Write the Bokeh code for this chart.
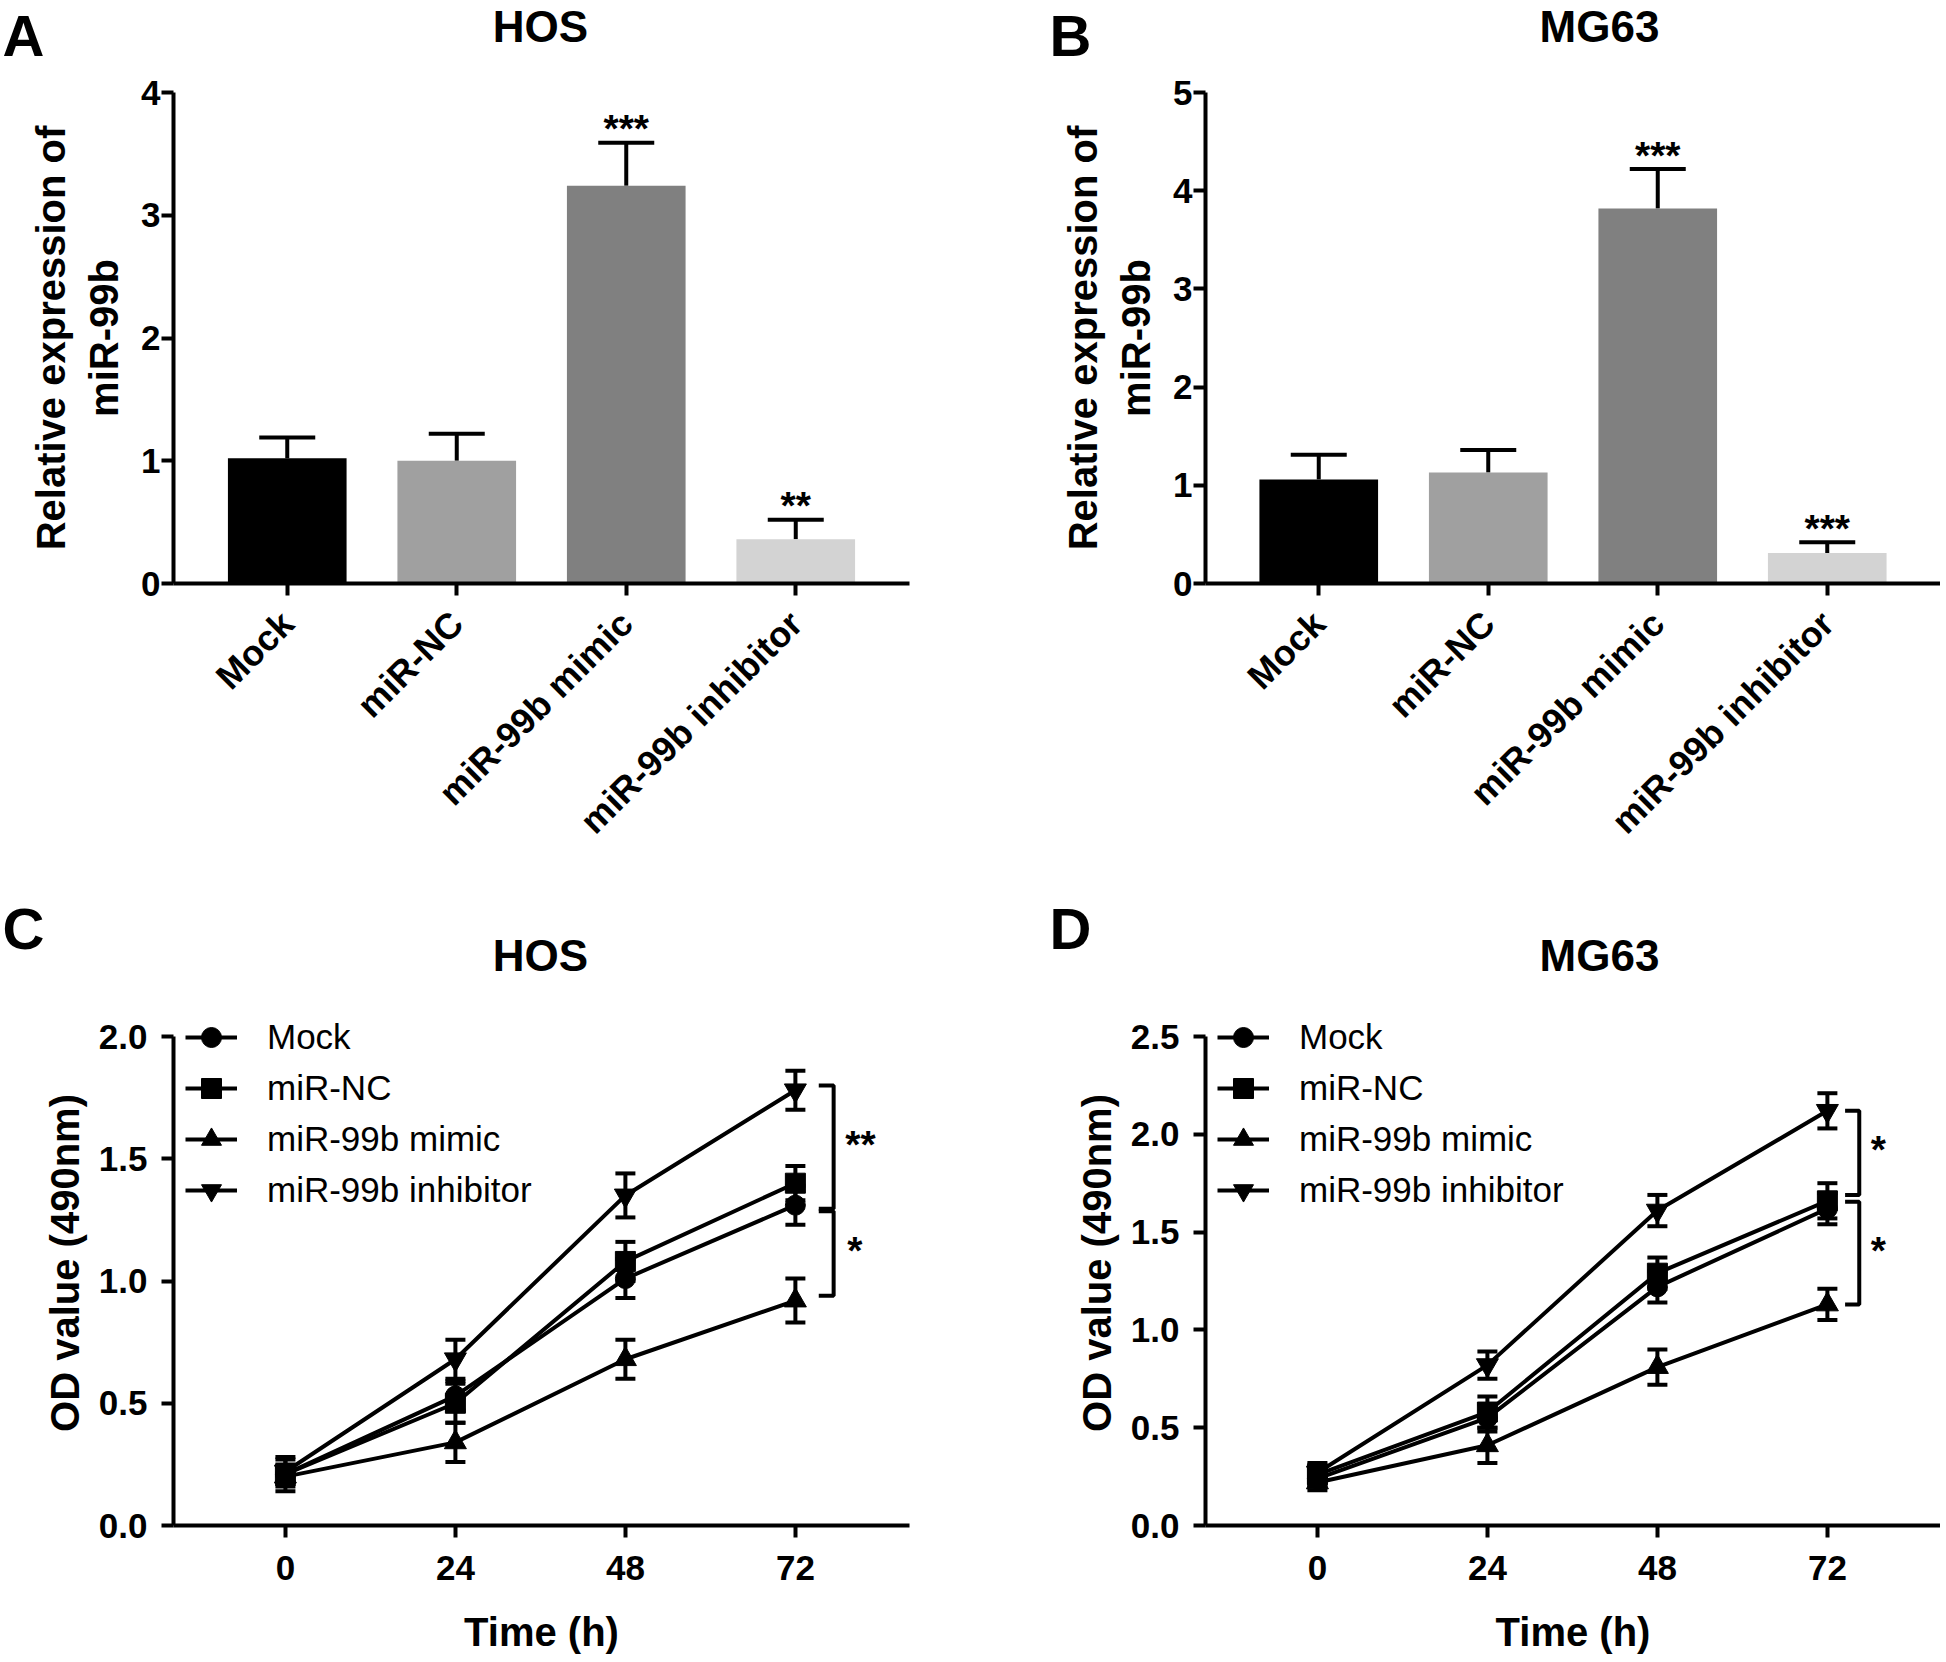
import numpy as np
from bokeh.plotting import figure
from bokeh.layouts import column, row
from bokeh.models import (FactorRange, Range1d, FixedTicker, PrintfTickFormatter,
                          Whisker, TeeHead, ColumnDataSource, Legend, LegendItem)
from bokeh.embed import file_html
from bokeh.resources import INLINE
from bokeh.core.properties import value

FONT = "Liberation Sans"

# ---------------- data ----------------
groups = ["Mock", "miR-NC", "miR-99b mimic", "miR-99b inhibitor"]
bar_colors = ["#000000", "#a0a0a0", "#808080", "#d3d3d3"]

hos_expr = [1.02, 1.00, 3.24, 0.36]
hos_expr_sd = [0.17, 0.22, 0.35, 0.16]
hos_expr_sig = ["", "", "***", "**"]

mg63_expr = [1.06, 1.13, 3.82, 0.31]
mg63_expr_sd = [0.25, 0.23, 0.40, 0.11]
mg63_expr_sig = ["", "", "***", "***"]

time_h = [0, 24, 48, 72]
time_labels = ["0", "24", "48", "72"]

hos_mock_od = [0.21, 0.53, 1.01, 1.31]
hos_mock_sd = [0.04, 0.06, 0.08, 0.08]
hos_nc_od = [0.21, 0.50, 1.08, 1.40]
hos_nc_sd = [0.07, 0.08, 0.08, 0.07]
hos_mimic_od = [0.20, 0.34, 0.68, 0.92]
hos_mimic_sd = [0.04, 0.08, 0.08, 0.09]
hos_inhib_od = [0.22, 0.68, 1.35, 1.78]
hos_inhib_sd = [0.05, 0.08, 0.09, 0.08]

mg63_mock_od = [0.24, 0.55, 1.22, 1.62]
mg63_mock_sd = [0.04, 0.07, 0.08, 0.08]
mg63_nc_od = [0.26, 0.58, 1.29, 1.66]
mg63_nc_sd = [0.05, 0.08, 0.08, 0.09]
mg63_mimic_od = [0.22, 0.41, 0.81, 1.13]
mg63_mimic_sd = [0.04, 0.09, 0.09, 0.08]
mg63_inhib_od = [0.27, 0.82, 1.61, 2.12]
mg63_inhib_sd = [0.05, 0.07, 0.08, 0.09]

# significance brackets at 72 h: (top value, bottom value, label)
hos_brackets = [(1.80, 1.295, "**"), (1.285, 0.94, "*")]
mg63_brackets = [(2.12, 1.69, "*"), (1.655, 1.13, "*")]

panel_letters = ["A", "B", "C", "D"]
panel_titles = ["HOS", "MG63", "HOS", "MG63"]

markers = ["circle", "square", "triangle", "inverted_triangle"]

TOTAL_W = 1940
LEFT_W = 1040
RIGHT_W = TOTAL_W - LEFT_W


def clean(p):
    p.background_fill_color = "white"
    p.border_fill_color = "white"
    p.outline_line_color = None


def style(p):
    clean(p)
    p.xgrid.grid_line_color = None
    p.ygrid.grid_line_color = None
    for ax in p.axis:
        ax.axis_line_width = 4
        ax.axis_line_color = "black"
        ax.major_tick_line_width = 4
        ax.major_tick_line_color = "black"
        ax.major_tick_out = 12
        ax.major_tick_in = 0
        ax.minor_tick_line_color = None
        ax.major_label_text_font = FONT
        ax.major_label_text_font_style = "bold"
        ax.major_label_text_font_size = "35px"
        ax.major_label_text_color = "black"
        ax.axis_label_text_font = FONT
        ax.axis_label_text_font_style = "bold"
        ax.axis_label_text_font_size = "40px"
        ax.axis_label_text_color = "black"


def header(height, letters, titles, letter_base, title_base):
    h = figure(width=TOTAL_W, height=height, x_range=Range1d(0, TOTAL_W),
               y_range=Range1d(0, height), x_axis_type=None, y_axis_type=None,
               title=None, min_border=0, min_border_left=0, min_border_right=0,
               min_border_top=0, min_border_bottom=0,
               output_backend="svg", toolbar_location=None)
    clean(h)
    h.text(x=[2, 1049], y=[letter_base, letter_base], text=letters,
           text_align="left", text_baseline="alphabetic", text_font=value(FONT),
           text_font_style="bold", text_font_size="58px", text_color="black")
    h.text(x=[540, 1599], y=[title_base, title_base], text=titles,
           text_align="center", text_baseline="alphabetic", text_font=value(FONT),
           text_font_style="bold", text_font_size="44px", text_color="black")
    return h


def bar_panel(vals, sds, sigs, ymax, width, mbl, fw, mbr):
    fh = 491
    pad = (fw / 169.5 - len(groups)) / 2
    p = figure(x_range=FactorRange(factors=groups, range_padding=pad,
                                   range_padding_units="absolute"),
               y_range=Range1d(0, ymax),
               width=width, height=22 + fh + 307,
               min_border_left=mbl, min_border_right=mbr,
               min_border_top=22, min_border_bottom=307,
               output_backend="svg", toolbar_location=None)
    src = ColumnDataSource(dict(g=groups, v=vals,
                                hi=[a + b for a, b in zip(vals, sds)],
                                c=bar_colors, sig=sigs))
    p.vbar(x="g", top="v", width=0.7, fill_color="c", line_color=None, source=src)
    p.add_layout(Whisker(base="g", lower="v", upper="hi", source=src,
                         line_width=4, line_color="black", lower_head=None,
                         upper_head=TeeHead(size=56, line_width=4, line_color="black")))
    p.text(x="g", y="hi", text="sig", source=src, text_align="center",
           text_baseline="alphabetic", text_font=value(FONT), text_font_style="bold",
           text_font_size="39px", text_color="black", y_offset=-14)
    style(p)
    p.yaxis.ticker = FixedTicker(ticks=list(range(0, ymax + 1)))
    p.yaxis.major_label_standoff = 1
    p.yaxis.axis_label = "Relative expression of\nmiR-99b"
    p.yaxis.axis_label_standoff = 12
    p.xaxis.major_label_orientation = np.pi / 4
    p.xaxis.major_label_standoff = 22
    p.xaxis.major_label_text_font_size = "36px"
    return p


def line_panel(series, brackets, ytop, width, mbl, fw, mbr, bracket_x, tick_x0, star_x):
    fh = 525
    ylim = ytop * fh / 489.0
    xend = -15.8 + fw / 7.083
    p = figure(x_range=Range1d(-15.8, xend), y_range=Range1d(0, ylim),
               width=width, height=fh + 137,
               min_border_left=mbl, min_border_right=mbr,
               min_border_top=0, min_border_bottom=137,
               output_backend="svg", toolbar_location=None)
    items = []
    for (name, od, sd), mk in zip(series, markers):
        src = ColumnDataSource(dict(t=time_h, y=od,
                                    lo=[a - b for a, b in zip(od, sd)],
                                    hi=[a + b for a, b in zip(od, sd)]))
        lr = p.line(x="t", y="y", source=src, line_width=4, line_color="black")
        p.add_layout(Whisker(base="t", lower="lo", upper="hi", source=src,
                             line_width=4, line_color="black",
                             lower_head=TeeHead(size=20, line_width=4, line_color="black"),
                             upper_head=TeeHead(size=20, line_width=4, line_color="black")))
        sz = 22 if "triangle" in mk else 20
        sr = p.scatter(x="t", y="y", source=src, marker=mk, size=sz,
                       fill_color="black", line_color="black")
        items.append(LegendItem(label=name, renderers=[lr, sr]))
    for top, bot, lab in brackets:
        p.line(x=[tick_x0, bracket_x, bracket_x, tick_x0], y=[top, top, bot, bot],
               line_width=4, line_color="black")
        p.text(x=[star_x[lab]], y=[(top + bot) / 2], text=[lab], text_align="center",
               text_baseline="alphabetic", text_font=value(FONT), text_font_style="bold",
               text_font_size="39px", text_color="black", y_offset=-3)
    style(p)
    p.xaxis.ticker = FixedTicker(ticks=time_h)
    p.xaxis.major_label_overrides = {t: s for t, s in zip(time_h, time_labels)}
    p.xaxis.major_label_standoff = 18
    p.xaxis.axis_label = "Time (h)"
    p.xaxis.axis_label_standoff = 27
    p.yaxis.ticker = FixedTicker(ticks=list(np.arange(0, ytop + 0.01, 0.5)))
    p.yaxis.bounds = (0, ytop)
    p.yaxis.formatter = PrintfTickFormatter(format="%.1f")
    p.yaxis.major_label_standoff = 14
    p.yaxis.axis_label = "OD value (490nm)"
    p.yaxis.axis_label_standoff = 9
    leg = Legend(items=items, location="top_left", padding=0, margin=12,
                 spacing=1, glyph_width=52, glyph_height=50, label_height=20,
                 label_standoff=30, label_text_font=FONT, label_text_font_size="35px",
                 label_text_color="black", border_line_color=None,
                 background_fill_alpha=0)
    p.add_layout(leg)
    return p


top_header = header(70, panel_letters[:2], panel_titles[:2], 35, 44)
bottom_header = header(110, panel_letters[2:], panel_titles[2:], 72, 45)

pa = bar_panel(hos_expr, hos_expr_sd, hos_expr_sig, 4, LEFT_W, 173, 736, 131)
pb = bar_panel(mg63_expr, mg63_expr_sd, mg63_expr_sig, 5, RIGHT_W, 165, 735, 0)

hos_series = [("Mock", hos_mock_od, hos_mock_sd), ("miR-NC", hos_nc_od, hos_nc_sd),
              ("miR-99b mimic", hos_mimic_od, hos_mimic_sd),
              ("miR-99b inhibitor", hos_inhib_od, hos_inhib_sd)]
mg63_series = [("Mock", mg63_mock_od, mg63_mock_sd), ("miR-NC", mg63_nc_od, mg63_nc_sd),
               ("miR-99b mimic", mg63_mimic_od, mg63_mimic_sd),
               ("miR-99b inhibitor", mg63_inhib_od, mg63_inhib_sd)]

pc = line_panel(hos_series, hos_brackets, 2.0, LEFT_W, 173, 736, 131,
                77.4, 75.3, {"**": 81.2, "*": 80.4})
pd = line_panel(mg63_series, mg63_brackets, 2.5, RIGHT_W, 165, 735, 0,
                76.5, 74.5, {"*": 79.2})

layout = column(top_header, row(pa, pb), bottom_header, row(pc, pd))

open("out.html", "w").write(file_html(layout, INLINE))
